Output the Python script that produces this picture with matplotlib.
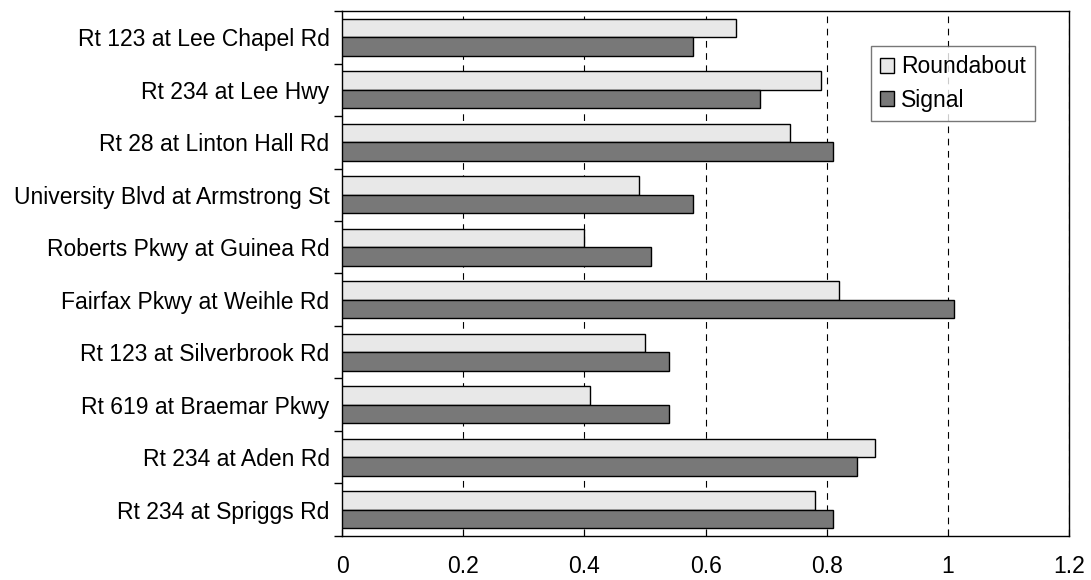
import matplotlib.pyplot as plt
import numpy as np

plt.rcParams['font.family'] = ['Liberation Sans', 'DejaVu Sans']

sites = ['Rt 123 at Lee Chapel Rd', 'Rt 234 at Lee Hwy', 'Rt 28 at Linton Hall Rd',
         'University Blvd at Armstrong St', 'Roberts Pkwy at Guinea Rd',
         'Fairfax Pkwy at Weihle Rd', 'Rt 123 at Silverbrook Rd', 'Rt 619 at Braemar Pkwy',
         'Rt 234 at Aden Rd', 'Rt 234 at Spriggs Rd']
roundabout = [0.65, 0.79, 0.74, 0.49, 0.40, 0.82, 0.50, 0.41, 0.88, 0.78]
signal = [0.58, 0.69, 0.81, 0.58, 0.51, 1.01, 0.54, 0.54, 0.85, 0.81]
xticks = [0, 0.2, 0.4, 0.6, 0.8, 1, 1.2]

fig = plt.figure(figsize=(10.91, 5.8), dpi=100)
ax = fig.add_axes([0.3135, 0.0759, 0.6665, 0.9051])

y = np.arange(len(sites))
h = 0.35
ax.barh(y - h / 2, roundabout, h, color='#e8e8e8', edgecolor='black', linewidth=1, label='Roundabout', zorder=3)
ax.barh(y + h / 2, signal, h, color='#787878', edgecolor='black', linewidth=1, label='Signal', zorder=3)

fs = 16.5
ax.set_xlim(0, 1.2)
ax.set_ylim(len(sites) - 0.5, -0.5)
ax.set_xticks(xticks)
ax.set_xticklabels(['0', '0.2', '0.4', '0.6', '0.8', '1', '1.2'], fontsize=fs)
ax.set_yticks(y)
ax.set_yticklabels(sites, fontsize=fs)
ax.set_yticks(np.arange(len(sites) + 1) - 0.5, minor=True)
ax.tick_params(axis='y', which='major', length=0, pad=9)
ax.tick_params(axis='y', which='minor', length=6, direction='out', width=1)
ax.tick_params(axis='x', length=5, direction='in', pad=14, top=False)
ax.grid(axis='x', color='black', linestyle=(0, (6, 5)), linewidth=0.8, zorder=1)
for s in ax.spines.values():
    s.set_color('black')
    s.set_linewidth(1)

leg = ax.legend(loc='upper right', bbox_to_anchor=(0.953, 0.933), borderaxespad=0, fontsize=fs,
                frameon=True, fancybox=False, handlelength=0.6, handleheight=0.6, handletextpad=0.3,
                borderpad=0.4, labelspacing=0.45)
leg.get_frame().set_edgecolor('#555555')
leg.get_frame().set_linewidth(1)

fig.savefig('out.png', dpi=100)
